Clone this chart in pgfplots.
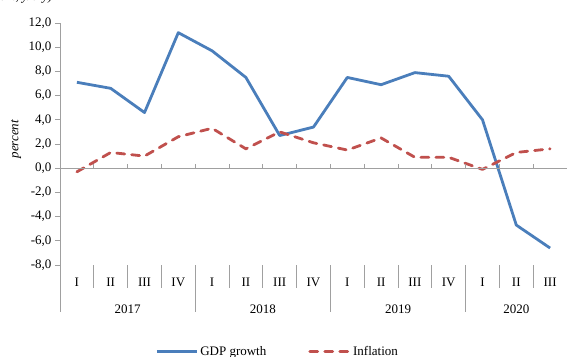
\documentclass[border=0pt]{standalone}
\usepackage{pgfplots}
\pgfplotsset{compat=1.18}
\usepackage{fontspec}
\setmainfont{Liberation Serif}
\definecolor{gdpblue}{HTML}{4A7EBB}
\definecolor{infred}{HTML}{C0504D}
\definecolor{axgray}{HTML}{A0A0A0}
\begin{document}
\begin{tikzpicture}[font=\fontsize{13}{15}\selectfont]
\useasboundingbox (0,0) rectangle (567pt,356pt);
\node[anchor=base east, font=\fontsize{13}{15}\selectfont\itshape] at (56pt,355.5pt) {(percent, y/o-y)};
\begin{axis}[
  at={(60pt,91pt)}, anchor=south west,
  scale only axis, width=507pt, height=242pt,
  xmin=-0.5, xmax=14.5, ymin=-8, ymax=12,
  clip=false,
  axis y line*=left, axis x line*=bottom,
  x axis line style={draw=none},
  y axis line style={axgray, line width=0.8pt},
  ytick={-8,-6,...,12},
  ytick style={axgray, line width=0.8pt},
  tick align=outside, major tick length=5pt,
  yticklabel style={/pgf/number format/.cd, fixed, fixed zerofill, precision=1, use comma, assume math mode=true},
  xtick={0,...,14},
  xticklabels={I,II,III,IV,I,II,III,IV,I,II,III,IV,I,II,III},
  xtick style={draw=none},
  xticklabel style={anchor=center, yshift=-12pt},
  extra x ticks={1.5,5.5,9.5,13},
  extra x tick labels={2017,2018,2019,2020},
  extra x tick style={xtick style={draw=none}, xticklabel style={anchor=center, yshift=-27pt}},
  ylabel={\itshape percent},
  every axis y label/.style={at={(axis description cs:0,0.52)}, xshift=-44pt, rotate=90, anchor=center},
  legend columns=2,
  legend style={at={(axis description cs:0.182,-0.358)}, anchor=west, draw=none, fill=none,
    /tikz/every even column/.append style={column sep=40pt}},
  legend image code/.code={\draw[#1] (0pt,0pt) -- (40pt,0pt);},
]
\addplot[gdpblue, line width=2.8pt, line join=round] coordinates {
(0,7.1) (1,6.6) (2,4.6) (3,11.2) (4,9.7) (5,7.5) (6,2.7) (7,3.4) (8,7.5) (9,6.9) (10,7.9) (11,7.6) (12,4.0) (13,-4.7) (14,-6.6)};
\addlegendentry{GDP growth}
\addplot[infred, line width=2.8pt, line cap=round, line join=round, dash pattern=on 8pt off 7pt] coordinates {
(0,-0.3) (1,1.3) (2,1.0) (3,2.6) (4,3.3) (5,1.6) (6,3.0) (7,2.1) (8,1.5) (9,2.5) (10,0.9) (11,0.9) (12,-0.1) (13,1.3) (14,1.6)};
\addlegendentry{Inflation}
\draw[axgray, line width=0.8pt] (axis cs:-0.5,0) -- (axis cs:14.5,0);
\pgfplotsinvokeforeach{0.5,1.5,2.5,3.5,4.5,5.5,6.5,7.5,8.5,9.5,10.5,11.5,12.5,13.5,14.5}{
  \draw[axgray, line width=0.8pt] (axis cs:#1,0) -- ++(0pt,4pt);
}
\pgfplotsinvokeforeach{0.5,1.5,2.5,4.5,5.5,6.5,8.5,9.5,10.5,12.5,13.5}{
  \draw[axgray, line width=0.8pt] (axis cs:#1,-8) -- ++(0pt,-23pt);
}
\pgfplotsinvokeforeach{-0.5,3.5,7.5,11.5,14.5}{
  \draw[axgray, line width=0.8pt] (axis cs:#1,-8) -- ++(0pt,-47pt);
}
\end{axis}
\end{tikzpicture}
\end{document}
